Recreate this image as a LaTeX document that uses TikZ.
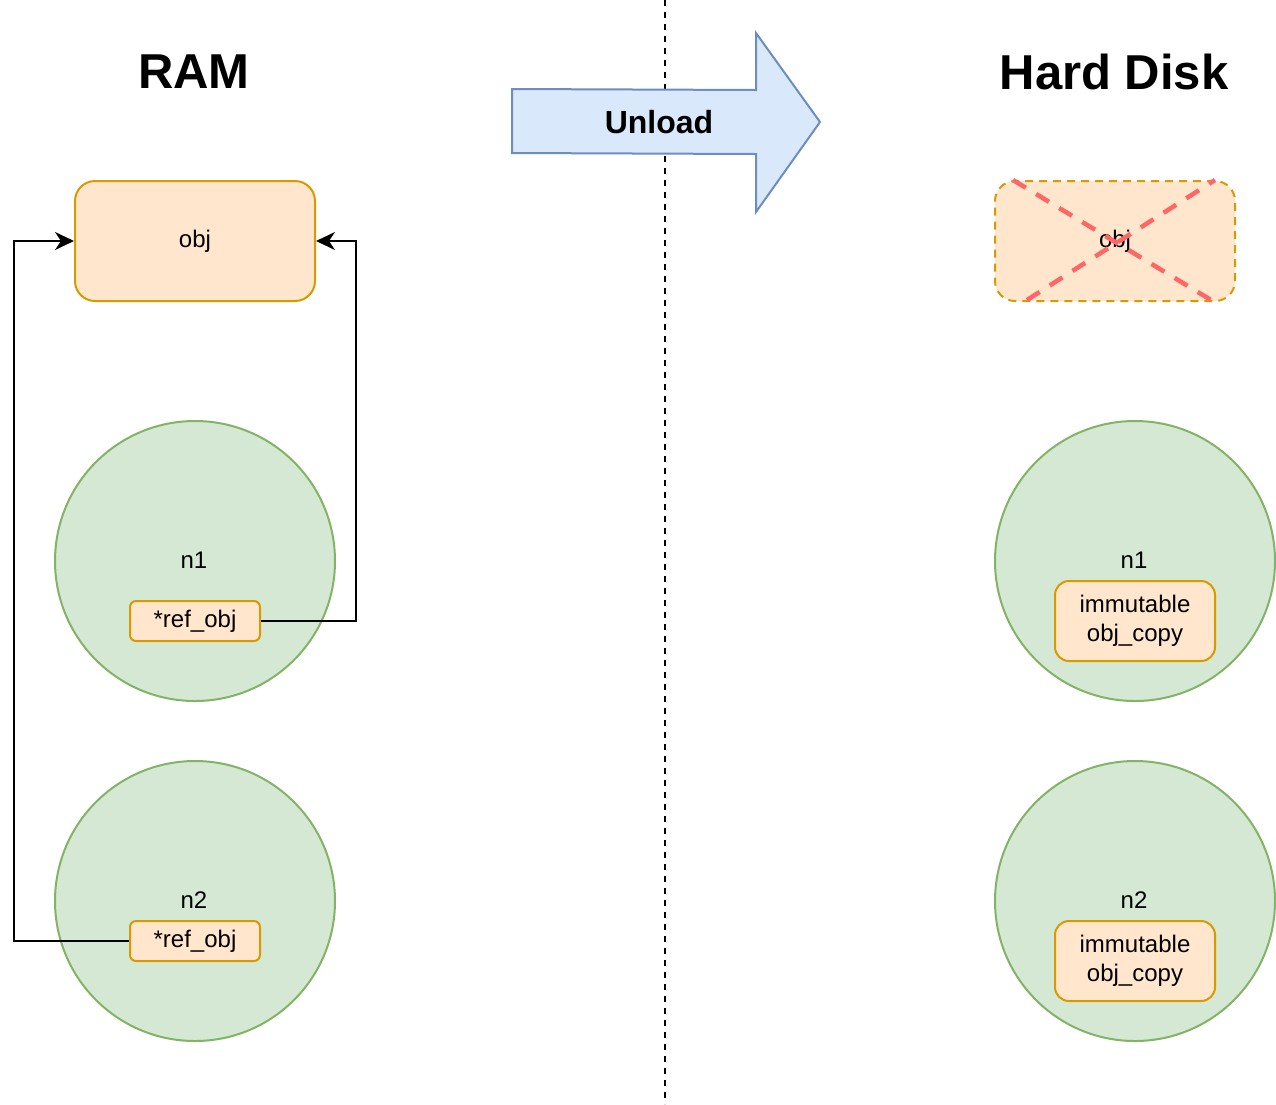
\documentclass[tikz,border=0pt]{standalone}
\usepackage{fontspec}
\setmainfont{Liberation Sans}
\usetikzlibrary{arrows.meta}
\definecolor{ofill}{HTML}{FFE6CC}
\definecolor{odraw}{HTML}{D79B00}
\definecolor{gfill}{HTML}{D5E8D4}
\definecolor{gdraw}{HTML}{82B366}
\definecolor{bfill}{HTML}{DAE8FC}
\definecolor{bdraw}{HTML}{6C8EBF}
\definecolor{xred}{HTML}{FF6666}
\tikzset{
  txt/.style={font=\fontsize{24}{29}\selectfont, text=black},
  objbox/.style={txt, draw=odraw, fill=ofill, line width=2pt, rounded corners=20pt, minimum width=240pt, minimum height=120pt, inner sep=0pt},
  refbox/.style={txt, draw=odraw, fill=ofill, line width=2pt, rounded corners=6pt, minimum width=130pt, minimum height=40pt, inner sep=0pt},
  copybox/.style={txt, draw=odraw, fill=ofill, line width=2pt, rounded corners=14pt, minimum width=160pt, minimum height=80pt, inner sep=0pt, align=center},
  nodecirc/.style={circle, draw=gdraw, fill=gfill, line width=2pt, minimum size=280pt, inner sep=0pt},
  title/.style={font=\fontsize{49}{58}\selectfont\bfseries, text=black},
  conn/.style={line width=2.2pt, -{Stealth[length=19pt, width=18pt, inset=6pt]}},
}
\begin{document}
\begin{tikzpicture}[x=1pt, y=-1pt]
\useasboundingbox (0,0) rectangle (1276,1104);
% divider
\coordinate (dtop) at (665,0);
\coordinate (dbot) at (665,1104);
\draw[line width=2pt, dash pattern=on 6pt off 6pt] (dtop) -- (dbot);
% titles
\node[title] (ram) at (194,72) {RAM};
\node[title] (hd) at (1114,72) {Hard Disk};
% unload arrow
\draw[draw=bdraw, fill=bfill, line width=2pt, line join=miter]
  (512,89) -- (756,90) -- (756,33) -- (820,122) -- (756,212) -- (756,154) -- (512,153) -- cycle;
\node[font=\fontsize{32}{38}\selectfont\bfseries] (unload) at (659,122) {Unload};
% left side
\node[objbox] (obj) at (195,241) {obj};
\node[nodecirc] (c1) at (195,561) {};
\node[txt] (l1) at (194,560) {n1};
\node[refbox] (r1) at (195,621) {*ref\_obj};
\node[nodecirc] (c2) at (195,901) {};
\node[txt] (l2) at (194,900) {n2};
\node[refbox] (r2) at (195,941) {*ref\_obj};
\draw[conn] (r1.east) -- ++(95,0) |- (obj.east);
\draw[conn] (r2.west) -- ++(-115,0) |- (obj.west);
% right side
\node[objbox, dash pattern=on 8pt off 6pt] (dobj) at (1115,241) {obj};
\coordinate (xa1) at (1013,180);
\coordinate (xa2) at (1211,300);
\coordinate (xb1) at (1027,300);
\coordinate (xb2) at (1215,180);
\draw[xred, line width=4.5pt, dash pattern=on 15pt off 12pt] (xa1) -- (xa2);
\draw[xred, line width=4.5pt, dash pattern=on 15pt off 12pt] (xb1) -- (xb2);
\node[nodecirc] (c3) at (1135,561) {};
\node[txt] (l3) at (1134,560) {n1};
\node[copybox] (k1) at (1135,621) {immutable\\obj\_copy};
\node[nodecirc] (c4) at (1135,901) {};
\node[txt] (l4) at (1134,900) {n2};
\node[copybox] (k2) at (1135,961) {immutable\\obj\_copy};
\end{tikzpicture}
\end{document}
